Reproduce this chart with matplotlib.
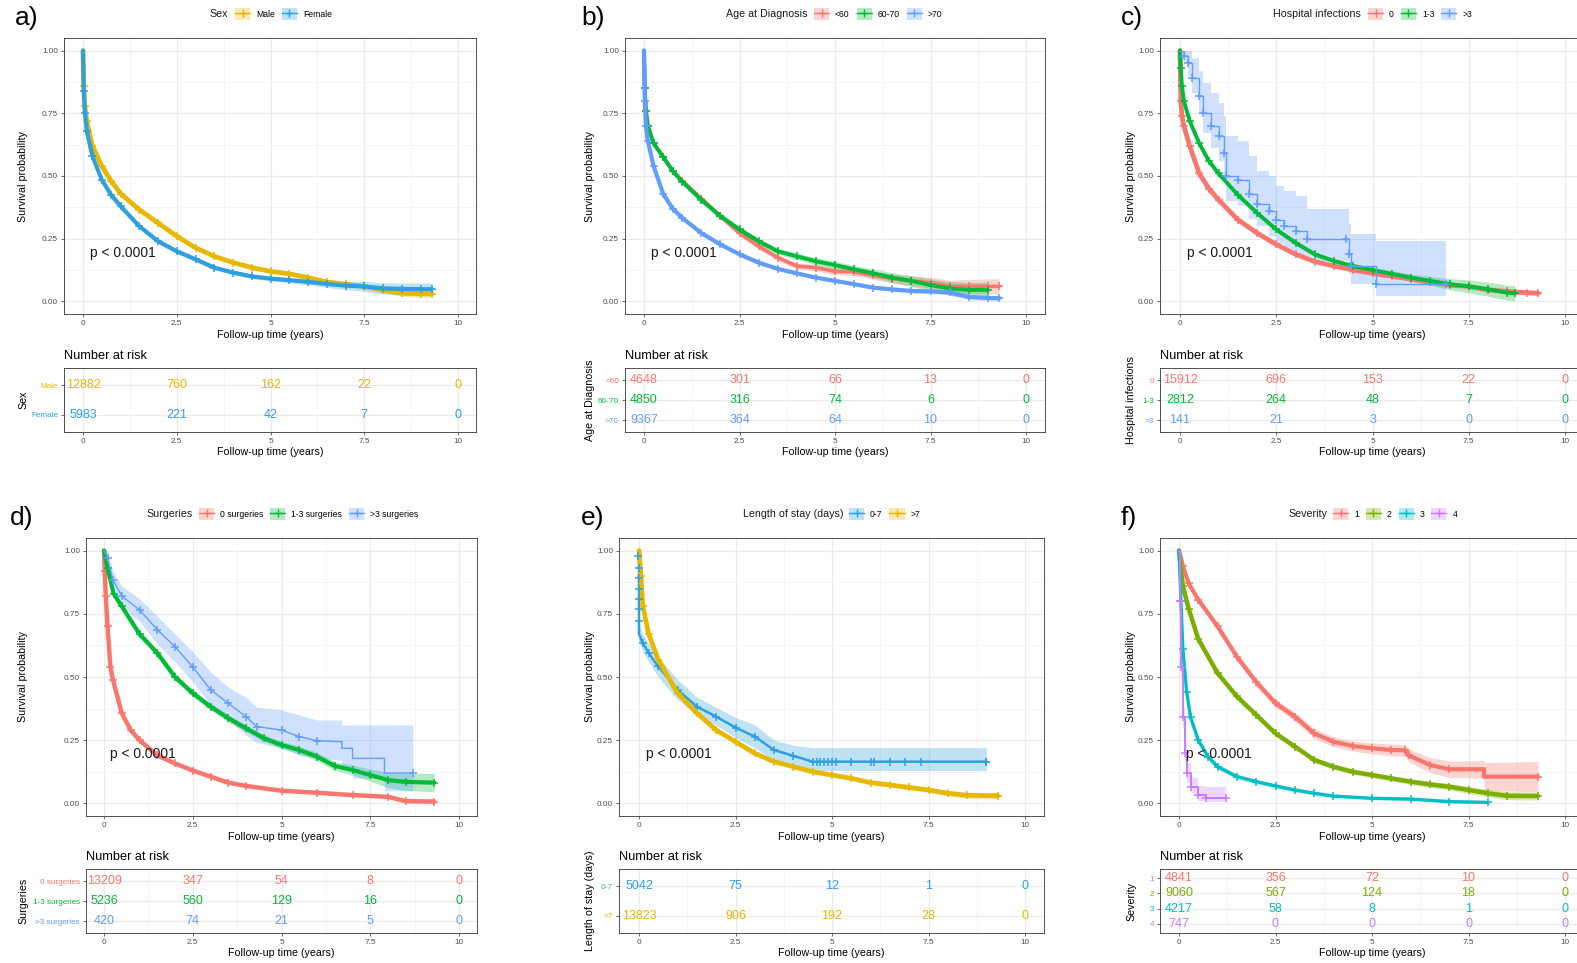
import matplotlib.pyplot as plt
from matplotlib.patches import Patch
from matplotlib.lines import Line2D
import numpy as np

plt.rcParams['font.family'] = ['Liberation Sans', 'DejaVu Sans']

# ---------------- data ----------------
G = [0, 0.02, 0.05, 0.1, 0.25, 0.5, 0.75, 1, 1.5, 2, 2.5, 3, 3.5, 4, 4.5, 5,
     5.5, 6, 6.5, 7, 7.5, 8, 8.5, 9, 9.3]
RISK_T = [0, 2.5, 5, 7.5, 10]

# a) Sex
A_GROUPS = ['Male', 'Female']
A_MALE = [1.0, 0.86, 0.78, 0.72, 0.62, 0.54, 0.48, 0.43, 0.366, 0.313, 0.26, 0.214, 0.18,
          0.155, 0.135, 0.12, 0.11, 0.095, 0.078, 0.069, 0.06, 0.046, 0.033, 0.03, 0.03]
A_MALE_CI = [0, 0.01, 0.01, 0.008, 0.007, 0.007, 0.006, 0.006, 0.006, 0.006, 0.006, 0.006, 0.006,
             0.006, 0.006, 0.006, 0.007, 0.008, 0.009, 0.01, 0.011, 0.012, 0.013, 0.013, 0.013]
A_FEMALE = [1.0, 0.84, 0.75, 0.68, 0.58, 0.485, 0.425, 0.38, 0.30, 0.24, 0.20, 0.168, 0.135,
            0.115, 0.10, 0.091, 0.085, 0.078, 0.07, 0.063, 0.06, 0.052, 0.05, 0.049, 0.049]
A_FEMALE_CI = [0, 0.012, 0.012, 0.012, 0.012, 0.011, 0.01, 0.01, 0.009, 0.009, 0.009, 0.009, 0.009,
               0.009, 0.009, 0.009, 0.01, 0.012, 0.014, 0.016, 0.02, 0.022, 0.024, 0.025, 0.025]
A_RISK = [[12882, 760, 162, 22, 0], [5983, 221, 42, 7, 0]]

# b) Age at Diagnosis
B_GROUPS = ['<60', '60-70', '>70']
B_LT60 = [1.0, 0.85, 0.76, 0.70, 0.63, 0.575, 0.52, 0.48, 0.41, 0.34, 0.273, 0.22, 0.175,
          0.141, 0.135, 0.12, 0.118, 0.104, 0.091, 0.082, 0.075, 0.06, 0.06, 0.06, 0.06]
B_LT60_CI = [0, 0.012, 0.012, 0.012, 0.012, 0.012, 0.012, 0.012, 0.012, 0.012, 0.012, 0.012, 0.012,
             0.012, 0.013, 0.014, 0.015, 0.016, 0.018, 0.02, 0.022, 0.025, 0.028, 0.03, 0.03]
B_6070 = [1.0, 0.85, 0.76, 0.70, 0.63, 0.577, 0.52, 0.478, 0.405, 0.34, 0.287, 0.24, 0.20,
          0.18, 0.16, 0.145, 0.128, 0.112, 0.095, 0.082, 0.065, 0.052, 0.046, 0.046]
B_6070_CI = [0, 0.012, 0.012, 0.012, 0.012, 0.012, 0.012, 0.012, 0.012, 0.012, 0.012, 0.012, 0.012,
             0.013, 0.014, 0.015, 0.016, 0.017, 0.019, 0.021, 0.024, 0.028, 0.03, 0.03]
B_GT70 = [1.0, 0.80, 0.70, 0.64, 0.54, 0.43, 0.37, 0.333, 0.273, 0.227, 0.188, 0.155, 0.13,
          0.112, 0.095, 0.082, 0.069, 0.055, 0.048, 0.042, 0.04, 0.036, 0.018, 0.014, 0.013]
B_GT70_CI = [0, 0.008, 0.008, 0.008, 0.008, 0.008, 0.008, 0.008, 0.007, 0.007, 0.007, 0.007, 0.006,
             0.006, 0.006, 0.006, 0.006, 0.006, 0.007, 0.008, 0.009, 0.01, 0.01, 0.01, 0.01]
B_RISK = [[4648, 301, 66, 13, 0], [4850, 316, 74, 6, 0], [9367, 364, 64, 10, 0]]

# c) Hospital infections
C_GROUPS = ['0', '1-3', '>3']
C_0 = [1.0, 0.80, 0.74, 0.70, 0.62, 0.51, 0.45, 0.405, 0.326, 0.273, 0.227, 0.188, 0.159,
       0.141, 0.125, 0.112, 0.10, 0.089, 0.077, 0.065, 0.06, 0.046, 0.04, 0.035, 0.033]
C_0_CI = [0, 0.005, 0.005, 0.005, 0.005, 0.005, 0.005, 0.005, 0.005, 0.005, 0.005, 0.005, 0.005,
          0.005, 0.005, 0.005, 0.005, 0.006, 0.006, 0.007, 0.008, 0.009, 0.01, 0.01, 0.01]
C_13_T = [0, 0.02, 0.05, 0.1, 0.25, 0.5, 0.75, 1, 1.5, 2, 2.5, 3, 3.5, 4, 4.5, 5, 5.5, 6,
          6.5, 7, 7.5, 8, 8.5, 8.7]
C_13 = [1.0, 0.93, 0.86, 0.80, 0.72, 0.63, 0.56, 0.51, 0.425, 0.353, 0.287, 0.234, 0.188,
        0.161, 0.141, 0.125, 0.11, 0.095, 0.082, 0.069, 0.06, 0.049, 0.035, 0.033]
C_13_CI = [0, 0.01, 0.01, 0.01, 0.01, 0.01, 0.01, 0.01, 0.01, 0.01, 0.01, 0.01, 0.01, 0.01,
           0.011, 0.012, 0.013, 0.015, 0.018, 0.022, 0.026, 0.028, 0.03, 0.03]
C_GT3_T = [0, 0.1, 0.2, 0.3, 0.5, 0.6, 0.8, 1.0, 1.15, 1.2, 1.5, 1.8, 2.0, 2.3, 2.5, 2.7,
           3.0, 3.3, 4.3, 4.4, 4.45, 5.1, 6.9]
C_GT3 = [1.0, 0.98, 0.95, 0.89, 0.82, 0.75, 0.70, 0.66, 0.59, 0.50, 0.485, 0.43, 0.39, 0.36,
         0.326, 0.30, 0.28, 0.25, 0.25, 0.19, 0.14, 0.069, 0.069]
C_GT3_HI = [1.0, 1.0, 1.0, 0.97, 0.92, 0.87, 0.83, 0.79, 0.74, 0.66, 0.64, 0.58, 0.52, 0.50,
            0.46, 0.44, 0.42, 0.37, 0.37, 0.31, 0.27, 0.24, 0.24]
C_GT3_LO = [1.0, 0.95, 0.90, 0.83, 0.75, 0.67, 0.61, 0.56, 0.48, 0.40, 0.38, 0.33, 0.30, 0.26,
            0.23, 0.20, 0.18, 0.16, 0.16, 0.11, 0.07, 0.02, 0.02]
C_RISK = [[15912, 696, 153, 22, 0], [2812, 264, 48, 7, 0], [141, 21, 3, 0, 0]]

# d) Surgeries
D_GROUPS = ['0 surgeries', '1-3 surgeries', '>3 surgeries']
D_0_T = [0, 0.02, 0.05, 0.1, 0.18, 0.25, 0.5, 0.75, 1, 1.5, 2, 2.5, 3, 3.5, 4, 5, 6, 7, 8, 8.5, 9.3]
D_0 = [1.0, 0.92, 0.82, 0.70, 0.54, 0.49, 0.357, 0.29, 0.25, 0.19, 0.158, 0.13, 0.106, 0.082,
       0.069, 0.05, 0.042, 0.033, 0.026, 0.009, 0.007]
D_0_CI = [0, 0.008, 0.008, 0.008, 0.008, 0.008, 0.008, 0.007, 0.007, 0.006, 0.006, 0.005, 0.005,
          0.005, 0.005, 0.005, 0.005, 0.006, 0.007, 0.008, 0.01]
D_13_T = [0, 0.1, 0.27, 0.5, 1, 1.5, 2, 2.5, 3, 3.5, 4, 4.5, 5, 5.5, 6, 6.5, 7, 7.5, 8, 8.5, 9.3]
D_13 = [1.0, 0.93, 0.83, 0.78, 0.67, 0.595, 0.50, 0.436, 0.383, 0.337, 0.297, 0.258, 0.231,
        0.211, 0.185, 0.148, 0.132, 0.112, 0.092, 0.085, 0.082]
D_13_CI = [0, 0.01, 0.01, 0.012, 0.013, 0.014, 0.014, 0.014, 0.014, 0.014, 0.014, 0.014, 0.014,
           0.015, 0.016, 0.018, 0.02, 0.024, 0.03, 0.034, 0.036]
D_GT3_T = [0, 0.1, 0.25, 0.5, 1, 1.5, 2, 2.5, 3, 3.5, 4, 4.3, 5, 5.5, 6, 6.7, 6.7, 7.0, 7.0,
           7.9, 7.9, 8.7]
D_GT3 = [1.0, 0.97, 0.885, 0.82, 0.766, 0.687, 0.62, 0.54, 0.45, 0.396, 0.343, 0.304, 0.29,
         0.264, 0.248, 0.244, 0.218, 0.218, 0.178, 0.178, 0.12, 0.12]
D_GT3_HI = [1.0, 1.0, 0.92, 0.86, 0.81, 0.74, 0.67, 0.60, 0.52, 0.46, 0.42, 0.38, 0.37, 0.35,
            0.33, 0.33, 0.31, 0.31, 0.31, 0.31, 0.31, 0.31]
D_GT3_LO = [1.0, 0.94, 0.85, 0.78, 0.72, 0.63, 0.56, 0.48, 0.39, 0.33, 0.27, 0.24, 0.22, 0.19,
            0.18, 0.17, 0.14, 0.14, 0.10, 0.10, 0.05, 0.05]
D_RISK = [[13209, 347, 54, 8, 0], [5236, 560, 129, 16, 0], [420, 74, 21, 5, 0]]

# e) Length of stay (days)
E_GROUPS = ['0-7', '>7']
E_07_T = [0, 0, 0.1, 0.25, 0.5, 1, 1.5, 2, 2.5, 3, 3.5, 4, 4.5, 9.0]
E_07 = [1.0, 0.67, 0.634, 0.594, 0.542, 0.449, 0.383, 0.343, 0.30, 0.264, 0.211, 0.188, 0.165, 0.165]
E_07_HI = [1.0, 0.70, 0.67, 0.63, 0.58, 0.49, 0.42, 0.38, 0.34, 0.31, 0.25, 0.23, 0.22, 0.22]
E_07_LO = [1.0, 0.64, 0.60, 0.56, 0.50, 0.41, 0.35, 0.31, 0.26, 0.22, 0.17, 0.15, 0.13, 0.13]
E_07_CENS_T = [-0.02, 0, 0, 0, 0, 0, 0, 4.6, 4.7, 4.8, 4.9, 5.0, 5.1, 5.5, 6.0, 6.1, 6.5, 6.9, 7.3, 9.0]
E_07_CENS_S = [0.98, 0.93, 0.89, 0.85, 0.81, 0.77, 0.72, 0.165, 0.165, 0.165, 0.165, 0.165, 0.165,
               0.165, 0.165, 0.165, 0.165, 0.165, 0.165, 0.165]
E_GT7_T = [0, 0.05, 0.1, 0.25, 0.5, 1, 1.5, 2, 2.5, 3, 3.5, 4, 4.5, 5, 5.5, 6, 6.5, 7, 7.5, 8, 8.5, 9.3]
E_GT7 = [1.0, 0.9, 0.78, 0.67, 0.568, 0.436, 0.357, 0.29, 0.244, 0.198, 0.165, 0.145, 0.125,
         0.112, 0.099, 0.082, 0.073, 0.063, 0.053, 0.04, 0.032, 0.03]
E_GT7_CI = [0, 0.008, 0.008, 0.008, 0.008, 0.008, 0.008, 0.008, 0.008, 0.007, 0.007, 0.007, 0.007,
            0.007, 0.007, 0.008, 0.008, 0.009, 0.01, 0.011, 0.012, 0.012]
E_RISK = [[5042, 75, 12, 1, 0], [13823, 906, 192, 28, 0]]

# f) Severity
F_GROUPS = ['1', '2', '3', '4']
F_1_T = [0, 0.1, 0.25, 0.5, 1, 1.5, 2, 2.5, 3, 3.5, 4, 4.5, 5, 5.5, 5.85, 5.95, 6.5, 7, 7.9, 7.9, 9.3]
F_1 = [1.0, 0.94, 0.87, 0.806, 0.70, 0.58, 0.48, 0.396, 0.343, 0.277, 0.244, 0.227, 0.218,
       0.211, 0.21, 0.19, 0.152, 0.135, 0.135, 0.106, 0.106]
F_1_CI = [0, 0.01, 0.012, 0.013, 0.014, 0.015, 0.016, 0.017, 0.018, 0.02, 0.02, 0.02, 0.022,
          0.023, 0.024, 0.026, 0.03, 0.032, 0.035, 0.055, 0.06]
F_2_T = [0, 0.1, 0.25, 0.5, 1, 1.5, 2, 2.5, 3, 3.5, 4, 4.5, 5, 5.5, 6, 6.5, 7, 7.5, 8, 8.5, 9.3]
F_2 = [1.0, 0.86, 0.77, 0.65, 0.515, 0.423, 0.35, 0.277, 0.225, 0.172, 0.145, 0.125, 0.112,
       0.099, 0.086, 0.075, 0.066, 0.053, 0.04, 0.03, 0.029]
F_2_CI = [0, 0.01, 0.01, 0.01, 0.01, 0.01, 0.01, 0.01, 0.01, 0.01, 0.01, 0.01, 0.01, 0.01,
          0.011, 0.012, 0.013, 0.014, 0.015, 0.016, 0.016]
F_3_T = [0, 0.05, 0.1, 0.2, 0.3, 0.5, 0.75, 1, 1.5, 2, 2.5, 3, 3.5, 4, 5, 6, 7, 8]
F_3 = [1.0, 0.8, 0.61, 0.44, 0.34, 0.25, 0.185, 0.145, 0.106, 0.086, 0.069, 0.053, 0.04, 0.029,
       0.02, 0.017, 0.007, 0.004]
F_3_CI = [0, 0.012, 0.015, 0.015, 0.014, 0.013, 0.012, 0.011, 0.01, 0.009, 0.008, 0.008, 0.007,
          0.006, 0.005, 0.005, 0.004, 0.004]
F_4_T = [0, 0.02, 0.05, 0.1, 0.15, 0.2, 0.3, 0.5, 0.7, 1.23]
F_4 = [1.0, 0.8, 0.54, 0.34, 0.2, 0.12, 0.066, 0.033, 0.022, 0.022]
F_4_HI = [1.0, 0.83, 0.58, 0.38, 0.24, 0.16, 0.10, 0.07, 0.065, 0.065]
F_4_LO = [1.0, 0.77, 0.50, 0.30, 0.16, 0.08, 0.04, 0.01, 0.005, 0.005]
F_RISK = [[4841, 356, 72, 10, 0], [9060, 567, 124, 18, 0], [4217, 58, 8, 1, 0], [747, 0, 0, 0, 0]]

# ---------------- colours ----------------
YEL, BLU = '#E7B800', '#2E9FDF'
HUE3 = ['#F8766D', '#00BA38', '#619CFF']
HUE4 = ['#F8766D', '#7CAE00', '#00BFC4', '#C77CFF']

W, H = 1577, 963
fig = plt.figure(figsize=(W / 100, H / 100), dpi=100)


def px_axes(l, t, r, b):
    return fig.add_axes([l / W, 1 - b / H, (r - l) / W, (b - t) / H])


def fx(x):
    return x / W


def fy(y):
    return 1 - y / H


def style(ax, xlim, ylim):
    ax.set_xlim(*xlim)
    ax.set_ylim(*ylim)
    ax.set_xticks(RISK_T)
    ax.set_xticklabels(['0', '2.5', '5', '7.5', '10'])
    ax.set_xticks([1.25, 3.75, 6.25, 8.75], minor=True)
    ax.grid(True, which='major', color='#EBEBEB', lw=0.9)
    ax.grid(True, which='minor', color='#F4F4F4', lw=0.6)
    ax.set_axisbelow(True)
    ax.tick_params(which='major', labelsize=5.9, labelcolor='#4D4D4D', color='#333333',
                   length=2.5, width=0.5, pad=1.8)
    ax.tick_params(which='minor', length=0)
    for sp in ax.spines.values():
        sp.set_color('#333333')
        sp.set_linewidth(0.6)


def km(ax, t, s, color, hw=None, lo=None, hi=None, lw=2.0, step=False):
    t = np.asarray(t, float)
    s = np.asarray(s, float)
    if hw is not None:
        lo = np.clip(s - np.asarray(hw), 0, 1)
        hi = np.clip(s + np.asarray(hw), 0, 1)
    ax.fill_between(t, lo, hi, color=color, alpha=0.3, lw=0, step='post' if step else None)
    ax.plot(t, s, color=color, lw=lw, drawstyle='steps-post' if step else 'default',
            solid_capstyle='round', solid_joinstyle='round')
    keep = [i for i in range(1, len(t))
            if t[i] != t[i - 1] and (i == len(t) - 1 or t[i] != t[i + 1])]
    ax.plot(t[keep], s[keep], ls='none', marker='+', ms=5.5, mew=1.1, color=color)


def legend(title, labels, colors, title_x, key_x, y):
    fig.text(fx(title_x), fy(y), title, ha='right', va='center', fontsize=7.7, color='#1A1A1A')
    handles = [(Patch(facecolor=c, alpha=0.3, edgecolor='none'),
                Line2D([], [], color=c, lw=1, marker='+', ms=6, mew=1)) for c in colors]
    fig.legend(handles, labels, loc='center left', bbox_to_anchor=(fx(key_x), fy(y)),
               ncol=len(labels), frameon=False, fontsize=6.2, handlelength=1.75,
               handleheight=1.6, handletextpad=0.7, columnspacing=0.8, borderpad=0,
               borderaxespad=0)


def panel(letter, lay, title, groups, colors, curves, risk):
    x0, x10, left, right = lay['x0'], lay['x10'], lay['left'], lay['right']
    top, bot, ttop, tbot = lay['top'], lay['bot'], lay['ttop'], lay['tbot']
    ppu = (x10 - x0) / 10
    xlim = ((left - x0) / ppu, (right - x0) / ppu)

    ax = px_axes(left, top, right, bot)
    style(ax, xlim, (-0.05, 1.05))
    ax.set_yticks([0, 0.25, 0.5, 0.75, 1])
    ax.set_yticklabels(['0.00', '0.25', '0.50', '0.75', '1.00'])
    ax.set_yticks([0.125, 0.375, 0.625, 0.875], minor=True)
    for c in curves:
        km(ax, **c)
    ax.text(0.18, 0.195, 'p < 0.0001', fontsize=10, ha='left', va='center', color='#1A1A1A')

    cx = (left + right) / 2
    fig.text(fx(lay['ylab_x']), fy((top + bot) / 2), 'Survival probability', rotation=90,
             ha='center', va='center', fontsize=7.7)
    fig.text(fx(cx), fy(bot + 21), 'Follow-up time (years)', ha='center', va='center', fontsize=7.7)
    fig.text(fx(lay['lab_x']), fy(top - 20), letter, ha='center', va='center', fontsize=19)

    # risk table
    n = len(groups)
    tx = px_axes(left, ttop, right, tbot)
    style(tx, xlim, (0.4, n + 0.6))
    rows = [n - i for i in range(n)]
    tx.set_yticks(rows)
    tx.set_yticklabels(groups)
    for lab, c in zip(tx.get_yticklabels(), colors):
        lab.set_color(c)
    for r, g, c in zip(rows, risk, colors):
        for t, v in zip(RISK_T, g):
            tx.text(t, r, str(v), color=c, ha='center', va='center', fontsize=9)
    fig.text(fx(left), fy(ttop - 12), 'Number at risk', ha='left', va='center', fontsize=9.2)
    fig.text(fx(lay['ylab_x']), fy((ttop + tbot) / 2), title, rotation=90,
             ha='center', va='center', fontsize=7.7)
    fig.text(fx(cx), fy(tbot + 20), 'Follow-up time (years)', ha='center', va='center', fontsize=7.7)

    legend(title, groups, colors, lay['leg_title'], lay['leg_key'], top - 24)
    return ax


TOP = dict(top=38, bot=314, ttop=368, tbot=432)
BOT = dict(top=538, bot=816, ttop=869, tbot=933)

panel('a)', dict(x0=83, x10=458, left=64, right=476, ylab_x=23, lab_x=27,
                 leg_title=228, leg_key=235, **TOP),
      'Sex', A_GROUPS, [YEL, BLU],
      [dict(t=G, s=A_MALE, hw=A_MALE_CI, color=YEL, lw=3.4),
       dict(t=G, s=A_FEMALE, hw=A_FEMALE_CI, color=BLU, lw=3.0)], A_RISK)

panel('b)', dict(x0=644, x10=1026, left=625, right=1045, ylab_x=590, lab_x=593,
                 leg_title=808, leg_key=814, **TOP),
      'Age at Diagnosis', B_GROUPS, HUE3,
      [dict(t=G, s=B_LT60, hw=B_LT60_CI, color=HUE3[0], lw=2.6),
       dict(t=G[:len(B_6070)], s=B_6070, hw=B_6070_CI, color=HUE3[1], lw=2.8),
       dict(t=G, s=B_GT70, hw=B_GT70_CI, color=HUE3[2], lw=3.0)], B_RISK)

panel('c)', dict(x0=1180, x10=1565, left=1160, right=1584, ylab_x=1131, lab_x=1132,
                 leg_title=1361, leg_key=1368, **TOP),
      'Hospital infections', C_GROUPS, HUE3,
      [dict(t=G, s=C_0, hw=C_0_CI, color=HUE3[0], lw=3.4),
       dict(t=C_13_T, s=C_13, hw=C_13_CI, color=HUE3[1], lw=2.8),
       dict(t=C_GT3_T, s=C_GT3, lo=C_GT3_LO, hi=C_GT3_HI, color=HUE3[2], lw=1.0, step=True)],
      C_RISK)

panel('d)', dict(x0=104, x10=459, left=86, right=477, ylab_x=23, lab_x=22,
                 leg_title=193, leg_key=199, **BOT),
      'Surgeries', D_GROUPS, HUE3,
      [dict(t=D_0_T, s=D_0, hw=D_0_CI, color=HUE3[0], lw=3.2),
       dict(t=D_13_T, s=D_13, hw=D_13_CI, color=HUE3[1], lw=3.0),
       dict(t=D_GT3_T, s=D_GT3, lo=D_GT3_LO, hi=D_GT3_HI, color=HUE3[2], lw=1.0)], D_RISK)

ax_e = panel('e)', dict(x0=639, x10=1025, left=619, right=1044, ylab_x=590, lab_x=593,
                        leg_title=843, leg_key=849, **BOT),
             'Length of stay (days)', E_GROUPS, [BLU, YEL],
             [dict(t=E_07_T, s=E_07, lo=E_07_LO, hi=E_07_HI, color=BLU, lw=1.8),
              dict(t=E_GT7_T, s=E_GT7, hw=E_GT7_CI, color=YEL, lw=3.4)], E_RISK)
ax_e.plot(E_07_CENS_T, E_07_CENS_S, ls='none', marker='+', ms=5.5, mew=1.1, color=BLU)

panel('f)', dict(x0=1179, x10=1565, left=1160, right=1584, ylab_x=1131, lab_x=1129,
                 leg_title=1327, leg_key=1333, **BOT),
      'Severity', F_GROUPS, HUE4,
      [dict(t=F_1_T, s=F_1, hw=F_1_CI, color=HUE4[0], lw=3.0),
       dict(t=F_2_T, s=F_2, hw=F_2_CI, color=HUE4[1], lw=3.2),
       dict(t=F_3_T, s=F_3, hw=F_3_CI, color=HUE4[2], lw=2.4),
       dict(t=F_4_T, s=F_4, lo=F_4_LO, hi=F_4_HI, color=HUE4[3], lw=1.4, step=True)], F_RISK)

fig.savefig('out.png', dpi=100)
